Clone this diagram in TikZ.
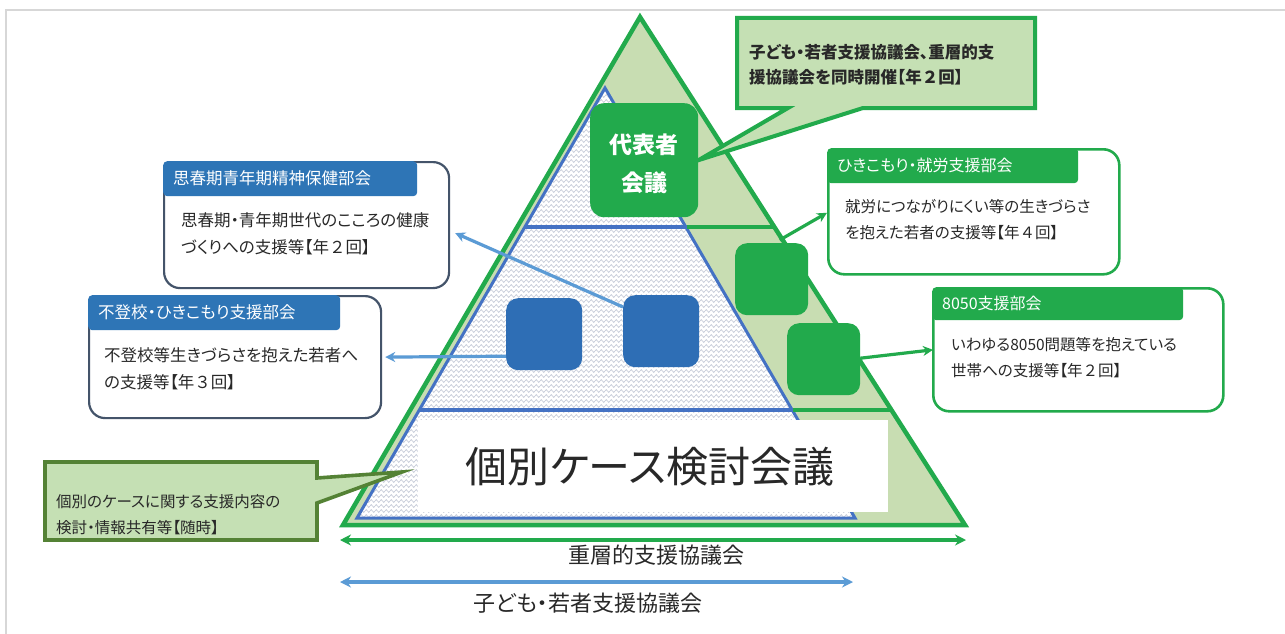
\documentclass[tikz,border=0pt]{standalone}
\usepackage{fontspec}
\newfontfamily\jp[RawFeature=+palt]{Noto Sans CJK JP}
\newfontfamily\jpfw{Noto Sans CJK JP}
\newcommand{\fwd}[1]{{\jpfw #1}}
\usetikzlibrary{arrows.meta,decorations.pathmorphing,calc}
\definecolor{gG}{RGB}{34,170,76}
\definecolor{olive}{RGB}{200,221,178}
\definecolor{callfill}{RGB}{197,224,180}
\definecolor{darkolive}{RGB}{84,130,53}
\definecolor{bSq}{RGB}{46,110,181}
\definecolor{bTab}{RGB}{46,117,182}
\definecolor{bTri}{RGB}{68,114,196}
\definecolor{bArr}{RGB}{91,155,213}
\definecolor{bBorder}{RGB}{68,84,106}
\definecolor{zzc}{RGB}{192,198,212}
\definecolor{txt}{RGB}{40,40,40}
\definecolor{frame}{RGB}{215,215,215}
\tikzset{
  zz/.style={draw=zzc, line width=0.6pt, decorate, decoration={zigzag, segment length=5pt, amplitude=1.4pt}},
  bbox/.style={draw=bBorder, line width=2.2pt, fill=white, rounded corners=16pt, anchor=north west},
  gbox/.style={draw=gG, line width=2.6pt, fill=white, rounded corners=16pt, anchor=north west},
  btab/.style={fill=bTab, rounded corners=4pt, anchor=north west, text=white, align=left, inner xsep=10pt, inner ysep=0pt, font=\jp\fontsize{16.5}{18}\selectfont},
  gtab/.style={fill=gG, rounded corners=4pt, anchor=north west, text=white, align=left, inner xsep=10pt, inner ysep=0pt, font=\jp\fontsize{16}{18}\selectfont},
  body/.style={anchor=west, align=left, text=txt, inner sep=0pt},
  bsqr/.style={fill=bSq, rounded corners=12pt, minimum width=76pt, minimum height=72pt, anchor=north west, inner sep=0pt},
  gsqr/.style={fill=gG, rounded corners=12pt, minimum width=73pt, minimum height=72pt, anchor=north west, inner sep=0pt},
  barrow/.style={draw=bArr, line width=3.2pt, -{Stealth[length=10pt,width=10pt]}},
  garrow/.style={draw=gG, line width=3.2pt, -{Stealth[length=10pt,width=10pt]}},
}
\begin{document}
\begin{tikzpicture}[x=1pt,y=-1pt, font=\jp]
\useasboundingbox (0,0) rectangle (1285,634);
\fill[white] (0,0) rectangle (1285,634);
% frame
\draw[frame, line width=1.5pt] (6,634) -- (6,10) -- (1285,10);

% green triangle
\coordinate (gA) at (640,17);
\coordinate (gL) at (343,525);
\coordinate (gR) at (965,525);
\filldraw[fill=olive, draw=gG, line width=4.5pt, line join=miter] (gA) -- (gL) -- (gR) -- cycle;

% blue triangle
\coordinate (bA) at (605,88);
\coordinate (bL) at (357,518);
\coordinate (bR) at (855,518);
\fill[white] (bA) -- (bL) -- (bR) -- cycle;
\begin{scope}
\clip (bA) -- (bL) -- (bR) -- cycle;
\foreach \yy in {86,91,...,521} \draw[zz] (340,\yy) -- (870,\yy);
\end{scope}
\draw[bTri, line width=3pt, line join=miter] (bA) -- (bL) -- (bR) -- cycle;

% layer lines
\draw[bTri, line width=3.2pt] (525,227) -- (687,227);
\draw[gG, line width=3.4pt] (687,227) -- (775,227);
\draw[bTri, line width=3.2pt] (420,410) -- (793,410);
\draw[gG, line width=3.4pt] (793,410) -- (891,410);

% bottom white panel
\node[fill=white, minimum width=470pt, minimum height=92pt, anchor=north west, inner sep=0pt] (kb) at (418,420) {};
\node[text=txt, font=\jp\fontsize{42}{45}\selectfont] (kbt) at (650,467) {個別ケース検討会議};

% representative box
\node[fill=gG, rounded corners=14pt, minimum width=108pt, minimum height=114pt, anchor=north west, inner sep=0pt] (dh) at (590,103) {};
\node[text=white, align=center, font=\jp\bfseries\fontsize{23}{38}\selectfont] (dht) at (644,164) {代表者\\会議};

% squares
\node[bsqr] (sq1) at (506,298) {};
\node[bsqr] (sq2) at (623,295) {};
\node[gsqr] (sqA) at (735,243) {};
\node[gsqr] (sqB) at (787,323) {};

% left boxes
\node[bbox, minimum width=285pt, minimum height=126pt] (b1) at (163,161) {};
\node[btab, text width=234pt, minimum height=35pt] (b1h) at (163,161) {思春期青年期精神保健部会};
\node[body, font=\jp\fontsize{16.5}{27}\selectfont] (b1t) at (181,234) {思春期・青年期世代のこころの健康\\づくりへの支援等【年\fwd{２}回】};

\node[bbox, minimum width=292pt, minimum height=122pt] (b2) at (88,295) {};
\node[btab, text width=232pt, minimum height=35pt] (b2h) at (88,295) {不登校・ひきこもり支援部会};
\node[body, font=\jp\fontsize{16.5}{27}\selectfont] (b2t) at (104,369) {不登校等生きづらさを抱えた若者へ\\の支援等【年\fwd{３}回】};

% right boxes
\node[gbox, minimum width=291pt, minimum height=125pt] (b3) at (827,148) {};
\node[gtab, text width=231pt, minimum height=35pt] (b3h) at (827,148) {ひきこもり・就労支援部会};
\node[body, font=\jp\fontsize{15.5}{26}\selectfont] (b3t) at (845,220) {就労につながりにくい等の生きづらさ\\を抱えた若者の支援等【年\fwd{４}回】};

\node[gbox, minimum width=290pt, minimum height=123pt] (b4) at (932,287) {};
\node[gtab, text width=231pt, minimum height=33pt] (b4h) at (932,287) {8050支援部会};
\node[body, font=\jp\fontsize{15.5}{26}\selectfont] (b4t) at (951,358) {いわゆる8050問題等を抱えている\\世帯への支援等【年\fwd{２}回】};

% arrows from squares
\draw[barrow] ($(sq2.north west)+(0,12)$) -- ($(b1.east)+(5,8)$);
\draw[barrow] ($(sq1.west)+(0,22)$) -- ($(b2.east)+(3,0)$);
\draw[garrow] ($(sqA.north)+(8,-3)$) -- ($(b3.west)+(0,1)$);
\draw[garrow] ($(sqB.east)+(0,-1)$) -- ($(b4.west)+(1,0)$);

% top callout
\coordinate (c1a) at (737,18);
\coordinate (c1b) at (1035,108);
\filldraw[fill=callfill, draw=gG, line width=4pt, line join=miter]
  (c1a) -- (c1a -| c1b) -- (c1b) -- (863,108) -- (dh.east) -- (788,108) -- (c1a |- c1b) -- cycle;
\node[anchor=west, align=left, text=txt, inner sep=0pt, font=\jp\bfseries\fontsize{16.5}{25}\selectfont] (c1t) at (749,65) {子ども・若者支援協議会、重層的支\\援協議会を同時開催【年\fwd{２}回】};

% bottom-left callout
\coordinate (c2a) at (45,462);
\coordinate (c2b) at (317,540);
\filldraw[fill=callfill, draw=darkolive, line width=3.6pt, line join=miter]
  (c2a) -- (c2a -| c2b) -- (317,478) -- (402,472) -- (317,503) -- (c2b) -- (c2a |- c2b) -- cycle;
\node[anchor=west, align=left, text=txt, inner sep=0pt, font=\jp\fontsize{15.5}{26}\selectfont] (c2t) at (56,515) {個別のケースに関する支援内容の\\検討・情報共有等【随時】};

% bottom double arrows
\coordinate (j1) at (340,540);
\coordinate (j2) at (966,540);
\draw[gG, line width=3.6pt, {Stealth[length=11pt,width=11pt]}-{Stealth[length=11pt,width=11pt]}] (j1) -- (j2);
\node[text=txt, font=\jp\fontsize{22}{24}\selectfont] (jt) at (656,555) {重層的支援協議会};
\coordinate (k1) at (340,582);
\coordinate (k2) at (853,582);
\draw[bArr, line width=3.6pt, {Stealth[length=11pt,width=11pt]}-{Stealth[length=11pt,width=11pt]}] (k1) -- (k2);
\node[text=txt, font=\jp\fontsize{22}{24}\selectfont] (kt) at (588,603) {子ども・若者支援協議会};
\end{tikzpicture}
\end{document}
